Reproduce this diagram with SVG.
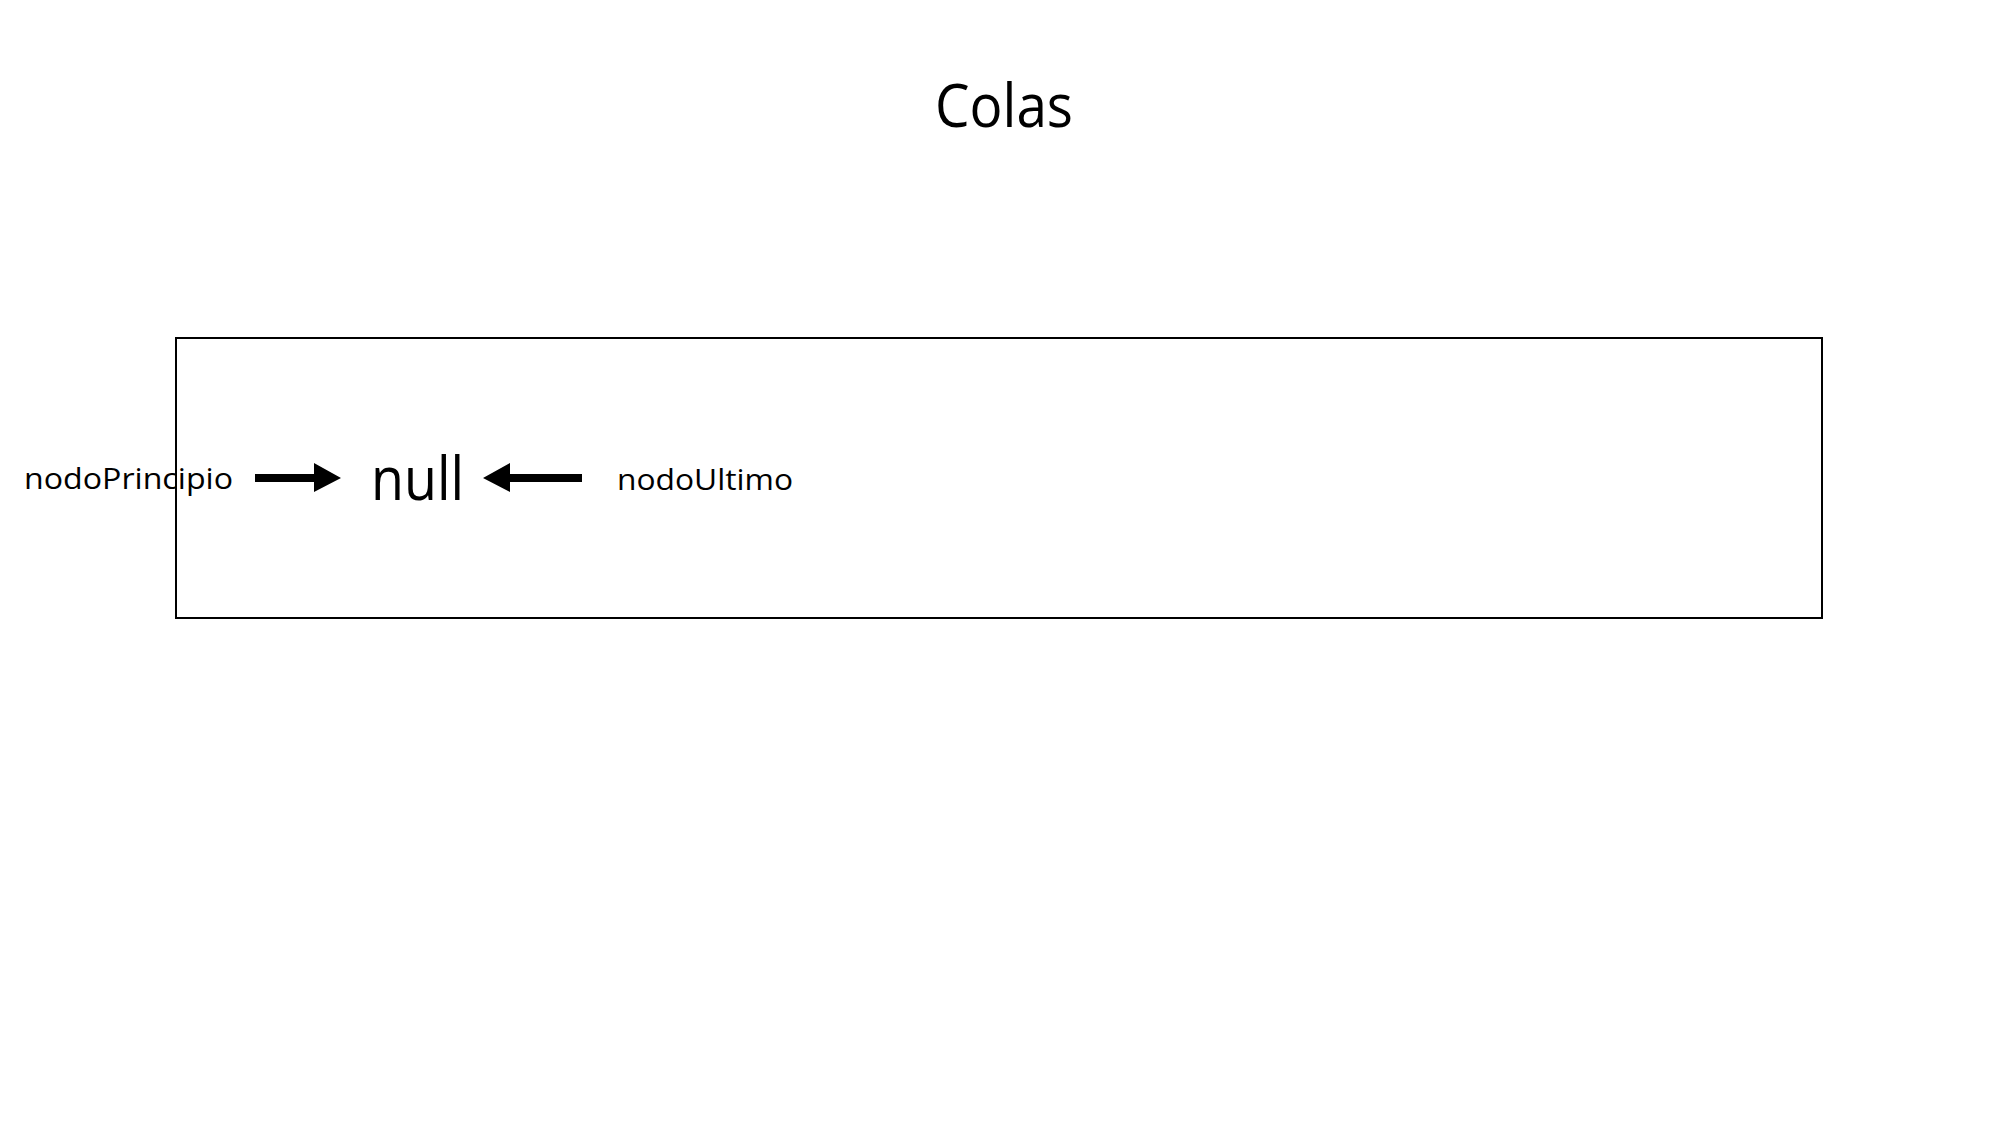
<svg xmlns="http://www.w3.org/2000/svg" width="2004" height="1125" viewBox="0 0 2004 1125">
<style>
text{font-family:"Open Sans","Noto Sans","Liberation Sans",sans-serif;fill:#000}
.lbl{font-size:30px}
.arrow{fill:#000}
</style>
<rect width="2004" height="1125" fill="#fff"/>
<g id="title"><text x="935" y="127" font-size="61" textLength="138" lengthAdjust="spacingAndGlyphs">Colas</text></g>
<g id="box"><rect x="176" y="338" width="1646" height="280" fill="none" stroke="#000" stroke-width="2"/></g>
<g id="nodoPrincipio"><text class="lbl" x="24" y="489" textLength="209" lengthAdjust="spacingAndGlyphs">nodoPrincipio</text></g>
<g id="null"><text x="371" y="500" font-size="60" textLength="93" lengthAdjust="spacingAndGlyphs">null</text></g>
<g id="nodoUltimo"><text class="lbl" x="617" y="490" textLength="176" lengthAdjust="spacingAndGlyphs">nodoUltimo</text></g>
<g id="connectors">
<polygon class="arrow" points="255,474 314,474 314,463 341,478 314,492 314,482 255,482"/>
<polygon class="arrow" points="582,474 510,474 510,463 483,478 510,492 510,482 582,482"/>
</g>
</svg>
